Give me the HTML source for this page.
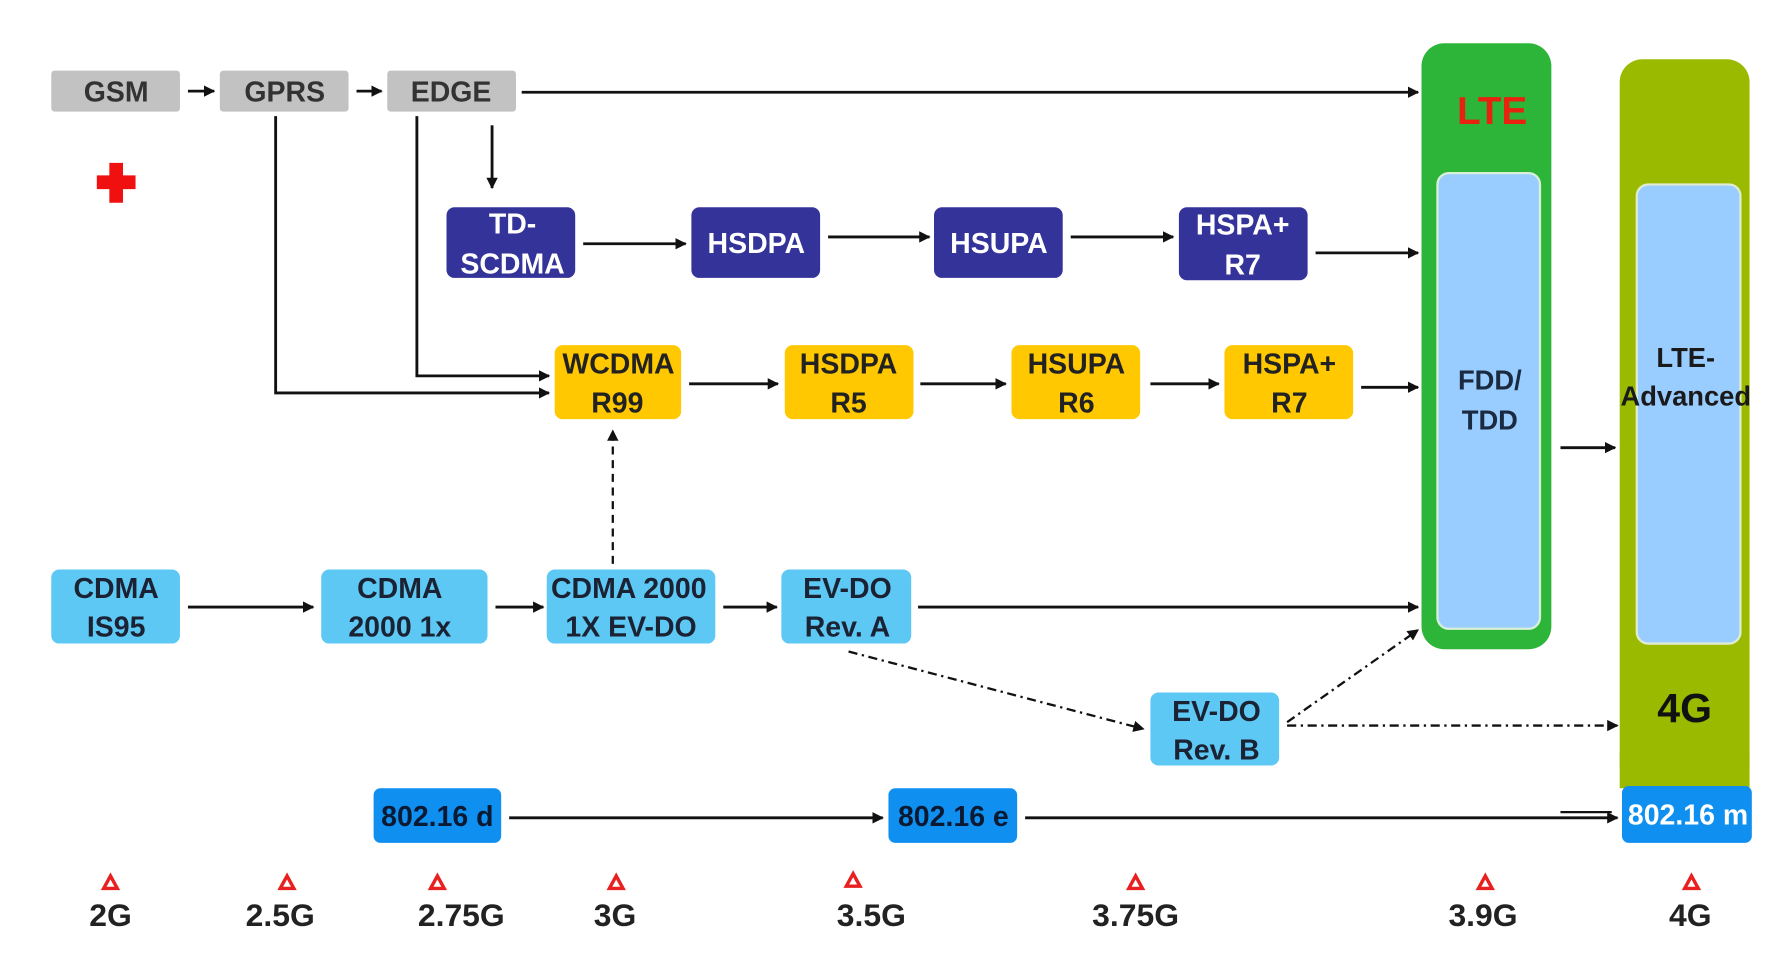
<!DOCTYPE html>
<html><head><meta charset="utf-8"><style>
html,body{margin:0;padding:0;background:#fff;width:1786px;height:956px;overflow:hidden}
svg{display:block}
text{font-family:"Liberation Sans",Arial,sans-serif;font-weight:bold}
</style></head><body>
<svg width="1786" height="956" viewBox="0 0 1568 839.3" preserveAspectRatio="none" xmlns="http://www.w3.org/2000/svg">
<defs>
<marker id="a" markerWidth="10" markerHeight="10" refX="9" refY="5" orient="auto" markerUnits="userSpaceOnUse"><path d="M0,0 L10,5 L0,10 z" fill="#111"/></marker>
</defs>
<rect width="1568" height="840" fill="#fff"/>
<!-- big columns -->
<rect x="1248" y="38" width="114" height="532" rx="20" fill="#2db539"/>
<rect x="1262" y="152" width="90" height="400" rx="10" fill="#99ccff" stroke="#d8f0d8" stroke-width="2"/>
<text x="1310" y="109" font-size="34" fill="#e8220f" text-anchor="middle">LTE</text>
<text x="1308" y="342" font-size="24" fill="#1a2a40" text-anchor="middle">FDD/</text>
<text x="1308" y="377" font-size="24" fill="#1a2a40" text-anchor="middle">TDD</text>
<rect x="1422" y="52" width="114" height="640" rx="20" fill="#9aba00"/>
<rect x="1422" y="660" width="114" height="32" fill="#9aba00"/>
<rect x="1437" y="162" width="91" height="403" rx="10" fill="#99ccff" stroke="#e0ecd0" stroke-width="2"/>
<text x="1480" y="322" font-size="24" fill="#1a1a1a" text-anchor="middle">LTE-</text>
<text x="1480" y="356" font-size="24" fill="#1a1a1a" text-anchor="middle">Advanced</text>
<text x="1479" y="634" font-size="36" fill="#111" text-anchor="middle">4G</text>
<!-- gray row -->
<g fill="#c2c2c2"><rect x="45" y="62" width="113" height="36" rx="3"/><rect x="193" y="62" width="113" height="36" rx="3"/><rect x="340" y="62" width="113" height="36" rx="3"/></g>
<g font-size="25" fill="#333" text-anchor="middle"><text x="102" y="89">GSM</text><text x="250" y="89">GPRS</text><text x="396" y="89">EDGE</text></g>
<g stroke="#111" stroke-width="2.5" fill="none" marker-end="url(#a)">
<line x1="165" y1="80" x2="188" y2="80"/><line x1="313" y1="80" x2="335" y2="80"/>
<line x1="458" y1="81" x2="1245" y2="81"/>
<line x1="432" y1="110" x2="432" y2="165"/>
<polyline points="242,102 242,345 482,345"/>
<polyline points="366,102 366,330 482,330"/>
<line x1="512" y1="214" x2="602" y2="214"/><line x1="727" y1="208" x2="816" y2="208"/><line x1="940" y1="208" x2="1030" y2="208"/><line x1="1155" y1="222" x2="1245" y2="222"/>
<line x1="605" y1="337" x2="683" y2="337"/><line x1="808" y1="337" x2="883" y2="337"/><line x1="1010" y1="337" x2="1070" y2="337"/><line x1="1195" y1="340" x2="1245" y2="340"/>
<line x1="165" y1="533" x2="275" y2="533"/><line x1="435" y1="533" x2="477" y2="533"/><line x1="635" y1="533" x2="682" y2="533"/><line x1="806" y1="533" x2="1245" y2="533"/>
<line x1="447" y1="718" x2="775" y2="718"/><line x1="900" y1="718" x2="1420" y2="718"/>
<line x1="1370" y1="393" x2="1418" y2="393"/>
</g>
<line x1="1370" y1="713" x2="1415" y2="713" stroke="#111" stroke-width="2"/>
<g stroke="#111" stroke-width="2" fill="none" marker-end="url(#a)">
<line x1="538" y1="495" x2="538" y2="378" stroke-dasharray="7,5"/>
<line x1="745" y1="572" x2="1004" y2="640" stroke-dasharray="8,4,2,4"/>
<line x1="1130" y1="634" x2="1245" y2="553" stroke-dasharray="8,4,2,4"/>
<line x1="1130" y1="637" x2="1420" y2="637" stroke-dasharray="8,4,2,4"/>
</g>
<!-- red cross -->
<path d="M96,143 h12 v11 h11 v12 h-11 v12 h-12 v-12 h-11 v-12 h11 z" fill="#f01010"/>
<!-- dark blue -->
<g fill="#333399"><rect x="392" y="182" width="113" height="62" rx="7"/><rect x="607" y="182" width="113" height="62" rx="7"/><rect x="820" y="182" width="113" height="62" rx="7"/><rect x="1035" y="182" width="113" height="64" rx="7"/></g>
<g font-size="25" fill="#fff" text-anchor="middle"><text x="450" y="205">TD-</text><text x="450" y="240">SCDMA</text><text x="664" y="222">HSDPA</text><text x="877" y="222">HSUPA</text><text x="1091" y="206">HSPA+</text><text x="1091" y="241">R7</text></g>
<!-- yellow -->
<g fill="#ffc800"><rect x="487" y="303" width="111" height="65" rx="7"/><rect x="689" y="303" width="113" height="65" rx="7"/><rect x="888" y="303" width="113" height="65" rx="7"/><rect x="1075" y="303" width="113" height="65" rx="7"/></g>
<g font-size="25" fill="#222" text-anchor="middle"><text x="543" y="328">WCDMA</text><text x="542" y="362">R99</text><text x="745" y="328">HSDPA</text><text x="745" y="362">R5</text><text x="945" y="328">HSUPA</text><text x="945" y="362">R6</text><text x="1132" y="328">HSPA+</text><text x="1132" y="362">R7</text></g>
<!-- light blue -->
<g fill="#5ec8f5"><rect x="45" y="500" width="113" height="65" rx="7"/><rect x="282" y="500" width="146" height="65" rx="7"/><rect x="480" y="500" width="148" height="65" rx="7"/><rect x="686" y="500" width="114" height="65" rx="7"/><rect x="1010" y="608" width="113" height="64" rx="7"/></g>
<g font-size="25" fill="#1a2233" text-anchor="middle"><text x="102" y="525">CDMA</text><text x="102" y="559">IS95</text><text x="351" y="525">CDMA</text><text x="351" y="559">2000 1x</text><text x="552" y="525">CDMA 2000</text><text x="554" y="559">1X EV-DO</text><text x="744" y="525">EV-DO</text><text x="744" y="559">Rev. A</text><text x="1068" y="633">EV-DO</text><text x="1068" y="667">Rev. B</text></g>
<!-- 802.16 -->
<g fill="#0f8ff0"><rect x="328" y="692" width="112" height="48" rx="6"/><rect x="780" y="692" width="113" height="48" rx="6"/><rect x="1424" y="690" width="114" height="50" rx="6"/></g>
<g font-size="25" text-anchor="middle"><text x="384" y="725" fill="#0a1a33">802.16 d</text><text x="837" y="725" fill="#0a1a33">802.16 e</text><text x="1482" y="724" fill="#fff">802.16 m</text></g>
<!-- bottom -->
<g fill="none" stroke="#e82020" stroke-width="3">
<path d="M97,769 l6,11 h-12 z"/><path d="M252,769 l6,11 h-12 z"/><path d="M384,769 l6,11 h-12 z"/><path d="M541,769 l6,11 h-12 z"/><path d="M749,767 l6,11 h-12 z"/><path d="M997,769 l6,11 h-12 z"/><path d="M1304,769 l6,11 h-12 z"/><path d="M1485,769 l6,11 h-12 z"/>
</g>
<g font-size="28" fill="#222" text-anchor="middle" font-weight="normal"><text x="97" y="813">2G</text><text x="246" y="813">2.5G</text><text x="405" y="813">2.75G</text><text x="540" y="813">3G</text><text x="765" y="813">3.5G</text><text x="997" y="813">3.75G</text><text x="1302" y="813">3.9G</text><text x="1484" y="813">4G</text></g>
</svg>
</body></html>
